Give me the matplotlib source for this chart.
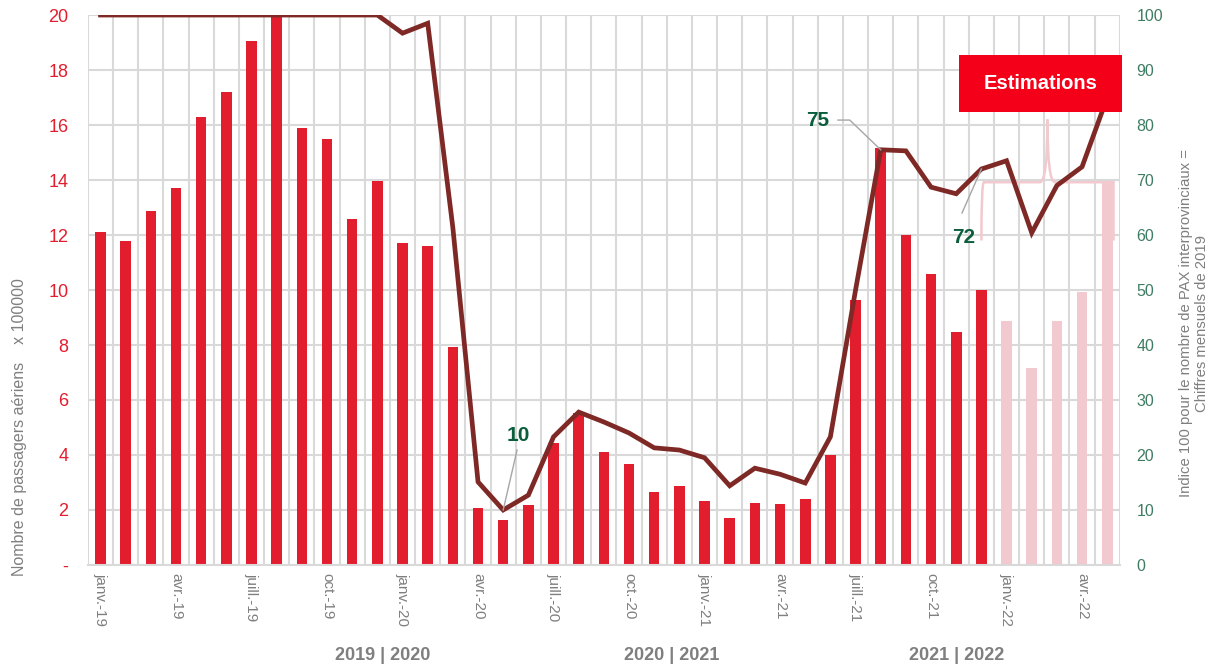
import matplotlib.pyplot as plt
import numpy as np
from matplotlib.path import Path
from matplotlib.patches import PathPatch, Rectangle

plt.rcParams["font.family"] = ["Liberation Sans", "DejaVu Sans"]

MONTHS_FR = ["janv.", "févr.", "mars", "avr.", "mai", "juin",
             "juil.", "août", "sept.", "oct.", "nov.", "déc."]
months = [f"{MONTHS_FR[m]}-{y % 100}" for y in (2019, 2020, 2021, 2022)
          for m in range(12)][:41]          # janv.-19 .. mai-22
tick_names = {"janv.": "janv.", "avr.": "avr.", "juil.": "juill.", "oct.": "oct."}

# passagers aériens (x 100000)
pax = [12.1, 11.8, 12.87, 13.7, 16.3, 17.2, 19.05, 20.4, 15.9, 15.5, 12.6, 13.96,
       11.7, 11.6, 7.93, 2.07, 1.64, 2.18, 4.44, 5.53, 4.1, 3.67, 2.65, 2.87,
       2.33, 1.7, 2.25, 2.22, 2.4, 4.0, 9.63, 15.16, 12.0, 10.6, 8.47, 10.0,
       8.87, 7.16, 8.87, 9.93, 13.96]
# indice 100 = chiffres mensuels 2019
index = [100, 100, 100, 100, 100, 100, 100, 100, 100, 100, 100, 100,
         96.7, 98.5, 61.3, 15.1, 10.0, 12.7, 23.3, 27.8, 26.0, 24.0, 21.3, 20.9,
         19.5, 14.4, 17.6, 16.5, 14.9, 23.3, 50.0, 75.5, 75.3, 68.7, 67.5, 72.0,
         73.5, 60.4, 69.0, 72.4, 85.0]
first_estimate = 36   # janv.-22 onwards are estimates

seasons = ["2019 | 2020", "2020 | 2021", "2021 | 2022"]
season_pos = [11.2, 22.7, 34.0]

RED = "#E21D2D"
PINK = "#F2C9CF"
LINE = "#7E2925"
GRID = "#D9D9D9"
GREY = "#7F7F7F"
GREEN_TXT = "#3E7D63"
LABEL_GREEN = "#0B5E3C"

x = np.arange(len(months))

fig = plt.figure(figsize=(12.08, 6.65), dpi=100)
ax = fig.add_axes([0.0728, 0.1504, 0.8542, 0.827])
ax2 = ax.twinx()

colors = [RED if i < first_estimate else PINK for i in x]
ax.bar(x, pax, width=0.42, color=colors, zorder=2)
ax.set_xlim(-0.5, len(months) - 0.5)
ax.set_ylim(0, 20)
ax.set_yticks(np.arange(0, 21, 2))
ax.set_yticklabels(["-"] + [str(v) for v in range(2, 21, 2)])
ax.tick_params(axis="y", colors=RED, labelsize=13, length=0, pad=14)

# vertical grid at month boundaries, horizontal grid per 2 units
ax.set_xticks(x)
ax.set_xticks(np.arange(-0.5, len(months), 1), minor=True)
ax.grid(True, which="minor", axis="x", color=GRID, lw=1.5, zorder=0)
ax.grid(True, which="major", axis="y", color=GRID, lw=1.5, zorder=0)
ax.tick_params(axis="x", which="both", length=0)
labels = []
for m in months:
    name, yr = m.split("-")
    labels.append(f"{tick_names[name]}-{yr}" if name in tick_names else "")
ax.set_xticklabels(labels, rotation=270, fontsize=11, color=GREY, va="top", ha="center")
ax.tick_params(axis="x", pad=6)
for s in ax.spines.values():
    s.set_visible(False)
ax.spines["bottom"].set_visible(True)
ax.spines["bottom"].set_color(GRID)
ax.spines["bottom"].set_linewidth(1.5)
ax.set_ylabel("Nombre de passagers aériens    x 100000", fontsize=11.5, color=GREY)
ax.yaxis.set_label_coords(-0.059, 0.25)

ax2.plot(x, index, color=LINE, lw=3.4, zorder=4, solid_joinstyle="miter")
ax2.set_ylim(0, 100)
ax2.set_yticks(np.arange(0, 101, 10))
ax2.tick_params(axis="y", colors=GREEN_TXT, labelsize=11.5, length=0, pad=12)
for s in ax2.spines.values():
    s.set_visible(False)
ax2.set_ylabel("Indice 100 pour le nombre de PAX interprovinciaux =\nChiffres mensuels de 2019",
               fontsize=10.7, color=GREY, rotation=90)
ax2.yaxis.set_label_coords(1.057, 0.44)

# brace over the estimated months
bx0, bx1, by, tip, peak = 35, 40.25, 69.6, 59, 81
mid = (bx0 + bx1) / 2
verts = [(bx0, tip), (bx0, by), (bx0 + 0.1, by), (bx0 + 0.4, by),
         (mid - 0.3, by), (mid, by), (mid, peak),
         (mid, by), (mid + 0.3, by),
         (bx1 - 0.4, by), (bx1 - 0.1, by), (bx1, by), (bx1, tip)]
codes = [Path.MOVETO, Path.CURVE3, Path.CURVE3, Path.LINETO,
         Path.LINETO, Path.CURVE3, Path.CURVE3,
         Path.CURVE3, Path.CURVE3,
         Path.LINETO, Path.CURVE3, Path.CURVE3, Path.LINETO]
ax2.add_patch(PathPatch(Path(verts, codes), fill=False, edgecolor=PINK, lw=1.8, zorder=3))


# value callouts with grey leader lines
def callout(i, text, lx, ly, tx, ty, ha="center", elbow=None):
    pts = [(lx, ly)] + ([elbow] if elbow else []) + [(x[i], index[i])]
    px, py = zip(*pts)
    ax2.plot(px, py, color="#A6A6A6", lw=1, zorder=5)
    ax2.text(tx, ty, text, color=LABEL_GREEN, fontsize=15, fontweight="bold",
             ha=ha, va="center", zorder=6)


callout(16, "10", 16.55, 20.9, 16.6, 23.6)
callout(31, "75", 29.3, 80.9, 28.95, 80.9, ha="right", elbow=(29.77, 80.9))
callout(35, "72", 34.23, 64.0, 34.3, 59.6)

ax2.add_patch(Rectangle((0.844, 0.8236), 0.158, 0.1036, transform=ax2.transAxes,
                        facecolor="#F50019", edgecolor="none", zorder=7, clip_on=False))
ax2.text(0.923, 0.8754, "Estimations", transform=ax2.transAxes, color="white",
         fontsize=14.5, fontweight="bold", ha="center", va="center", zorder=8)

for name, pos in zip(seasons, season_pos):
    ax.text(pos, -0.165, name, transform=ax.get_xaxis_transform(), fontsize=13,
            fontweight="bold", color=GREY, ha="center", va="center")

fig.savefig("out.png", dpi=100)
